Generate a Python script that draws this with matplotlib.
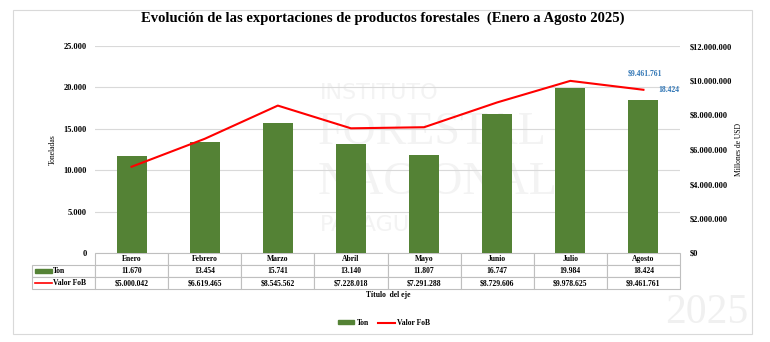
import numpy as np
import matplotlib.pyplot as plt
from matplotlib.patches import Rectangle
from matplotlib.lines import Line2D

plt.rcParams['font.family'] = ['Liberation Serif', 'DejaVu Serif']
plt.rcParams['font.weight'] = 'bold'

meses = ['Enero', 'Febrero', 'Marzo', 'Abril', 'Mayo', 'Junio', 'Julio', 'Agosto']
ton = [11670, 13454, 15741, 13140, 11807, 16747, 19984, 18424]
fob = [5000042, 6619465, 8545562, 7228018, 7291288, 8729606, 9978625, 9461761]
ticks_ton = [0, 5000, 10000, 15000, 20000, 25000]
ticks_fob = [0, 2000000, 4000000, 6000000, 8000000, 10000000, 12000000]

verde = '#548235'
rojo = '#FF0000'
azul = '#2F75B5'
gris = '#BFBFBF'


def puntos(v):
    return f"{v:,}".replace(',', '.')


def dolares(v):
    return '$' + puntos(v)


W, H = 770, 342
fig = plt.figure(figsize=(W / 100, H / 100), dpi=100)
ax = fig.add_axes([95 / W, 1 - 253 / H, 585 / W, 207 / H])
ax2 = ax.twinx()

# marco del grafico
fig.patches.append(Rectangle((13 / W, 1 - 334 / H), 739 / W, 324 / H, transform=fig.transFigure,
                             fill=False, edgecolor='#D9D9D9', linewidth=0.8))

# marca de agua
wm = '#F3F3F3'
tf = fig.transFigure
ax.text(320 / W, 1 - 93 / H, 'INSTITUTO', transform=tf, fontsize=16, color=wm, family='DejaVu Sans',
        fontweight='normal', va='center', zorder=0.5)
ax.text(318 / W, 1 - 133 / H, 'FORESTAL', transform=tf, fontsize=33, color=wm, fontweight='normal',
        va='center', zorder=0.5)
ax.text(318 / W, 1 - 183 / H, 'NACIONAL', transform=tf, fontsize=33, color=wm, fontweight='normal',
        va='center', zorder=0.5)
ax.text(320 / W, 1 - 225 / H, 'PARAGUAY', transform=tf, fontsize=16, color=wm, family='DejaVu Sans',
        fontweight='normal', va='center', zorder=0.5)
fig.text(707 / W, 1 - 313 / H, '2025', fontsize=30, color='#F0F0F0', fontweight='normal',
         ha='center', va='center', zorder=0)

x = np.arange(len(meses))
ax.bar(x, ton, width=0.41, color=verde, zorder=2)
ax2.plot(x, fob, color=rojo, linewidth=1.5)

ax.set_xlim(-0.5, len(meses) - 0.5)
ax.set_ylim(0, 25000)
ax2.set_ylim(0, 12000000)
ax.set_yticks(ticks_ton)
ax.set_yticklabels([puntos(t) for t in ticks_ton])
ax2.set_yticks(ticks_fob)
ax2.set_yticklabels([dolares(t) for t in ticks_fob])
ax.set_xticks([])
ax.grid(axis='y', color='#D9D9D9', linewidth=0.8, zorder=0)
ax.set_axisbelow(True)
for a in (ax, ax2):
    for s in a.spines.values():
        s.set_visible(False)
    a.tick_params(axis='y', length=0, labelsize=6)
ax.tick_params(axis='y', pad=6)
ax2.tick_params(axis='y', pad=7)

ax.set_ylabel('Toneladas', fontsize=5.5)
ax.yaxis.set_label_coords(-0.065, 0.5)
ax2.set_ylabel('Millones de USD', fontsize=5.5)
ax2.yaxis.set_label_coords(1.094, 0.5)

fig.text(383 / W, 1 - 18 / H, 'Evolución de las exportaciones de productos forestales  (Enero a Agosto 2025)',
         fontsize=10.5, ha='center', va='center')

# etiquetas de datos del ultimo mes
ax2.annotate(dolares(fob[-1]), xy=(x[-1], fob[-1]), xytext=(1, 12), textcoords='offset points',
             ha='center', va='center', fontsize=5.5, color=azul)
ax2.annotate(puntos(ton[-1]), xy=(x[-1], fob[-1]), xytext=(18, 0), textcoords='offset points',
             ha='center', va='center', fontsize=5.5, color=azul)

# tabla de datos (primera columna para la leyenda de cada fila)
lab_w = 63 / 585
tab_h = 36 / 207
tabla = ax.table(cellText=[[''] + [puntos(v) for v in ton], [''] + [dolares(v) for v in fob]],
                 colLabels=[''] + meses, cellLoc='center',
                 colWidths=[lab_w] + [1 / len(meses)] * len(meses),
                 bbox=[-lab_w, -tab_h, 1 + lab_w, tab_h])
tabla.auto_set_font_size(False)
for (r, c), cell in tabla.get_celld().items():
    cell.set_edgecolor(gris)
    cell.set_linewidth(0.8)
    cell.get_text().set_fontsize(5.5)
    cell.get_text().set_fontweight('bold')
tabla[(0, 0)].visible_edges = ''

fila_y = [-18 / 207, -30 / 207]
ax.add_patch(Rectangle((-0.1026, fila_y[0] - 0.01), 0.029, 0.02, transform=ax.transAxes,
                       color=verde, clip_on=False))
ax.add_line(Line2D([-0.1026, -0.0735], [fila_y[1], fila_y[1]], transform=ax.transAxes,
                   color=rojo, linewidth=1.2, clip_on=False))
ax.text(-0.0718, fila_y[0], 'Ton', transform=ax.transAxes, fontsize=5.5, va='center', ha='left')
ax.text(-0.0718, fila_y[1], 'Valor FoB', transform=ax.transAxes, fontsize=5.5, va='center', ha='left')

fig.text(388 / W, 1 - 295 / H, 'Título  del eje', fontsize=5.5, ha='center', va='center')

handles = [Rectangle((0, 0), 1, 1, color=verde), Line2D([], [], color=rojo, linewidth=1.5)]
fig.legend(handles, ['Ton', 'Valor FoB'], loc='center', bbox_to_anchor=(384 / W, 1 - 323 / H), ncol=2,
           frameon=False, fontsize=5.5, handlelength=2.2, handleheight=0.5, columnspacing=1.2,
           handletextpad=0.3)

fig.savefig('out.png', dpi=100)
